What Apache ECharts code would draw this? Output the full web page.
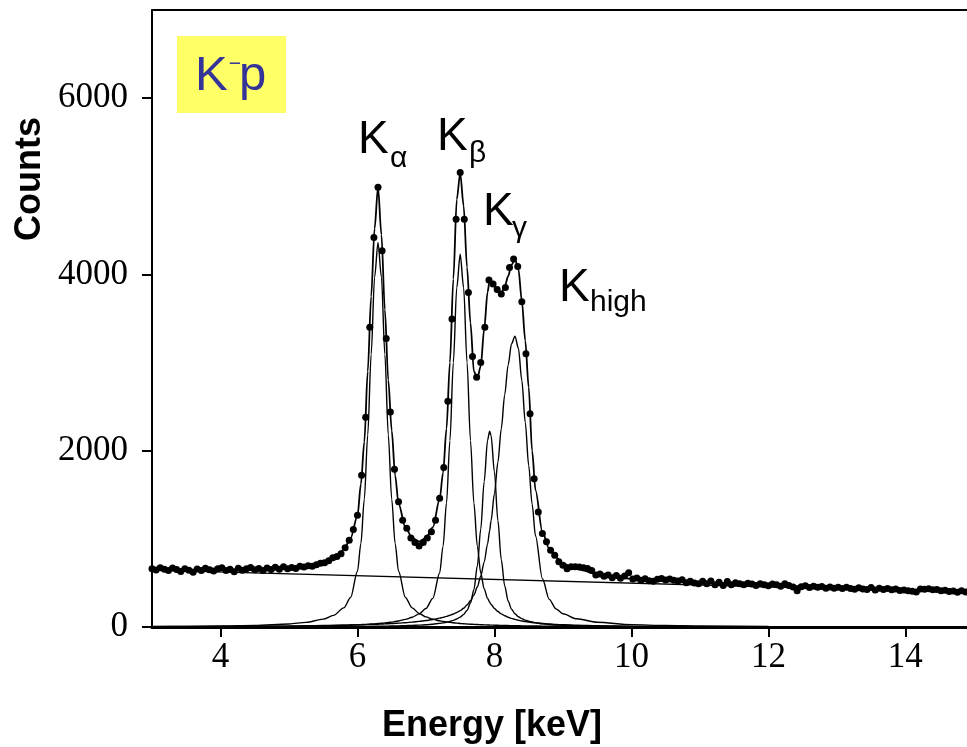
<!DOCTYPE html>
<html>
<head>
<meta charset="utf-8">
<script src="https://cdn.jsdelivr.net/npm/echarts@6/dist/echarts.min.js"></script>
<style>
html,body{margin:0;padding:0;background:#fff;}
#chart{width:967px;height:747px;}
</style>
</head>
<body>
<div id="chart"></div>
<script>
// ---- Data ----
const xTicks = [4, 6, 8, 10, 12, 14];
const yTicks = [0, 2000, 4000, 6000];

// x positions (keV) of the fitted curves
const energyGrid = [3.0, 3.5, 4.0, 4.5, 5.0, 5.25, 5.5, 5.65, 5.8, 5.9, 6.0, 6.05, 6.1, 6.15, 6.2, 6.25, 6.3, 6.35, 6.4, 6.45, 6.5, 6.55, 6.6, 6.7, 6.8, 6.9, 7.0, 7.1, 7.2, 7.25, 7.3, 7.35, 7.4, 7.45, 7.5, 7.55, 7.6, 7.65, 7.7, 7.75, 7.8, 7.85, 7.9, 7.93, 7.95, 8.0, 8.05, 8.1, 8.15, 8.2, 8.25, 8.3, 8.35, 8.4, 8.45, 8.5, 8.55, 8.6, 8.7, 8.8, 8.9, 9.0, 9.2, 9.5, 10, 10.5, 11, 12, 13, 14, 15];

// total fit curve
const fitTotal = [655, 650, 648, 653, 670, 690, 725, 780, 875, 1010, 1260, 1620, 2100, 2900, 3750, 4520, 4990, 4450, 3600, 2800, 2230, 1720, 1400, 1130, 1010, 970, 1010, 1130, 1450, 1750, 2250, 3000, 3950, 4850, 5150, 4780, 4080, 3450, 2900, 2820, 2960, 3380, 3800, 3930, 3930, 3870, 3800, 3790, 3860, 3980, 4110, 4170, 4060, 3700, 3250, 2720, 2000, 1550, 1080, 890, 790, 720, 660, 600, 548, 525, 505, 475, 448, 422, 400];

// K-alpha component
const kAlpha = [5.4, 7.5, 11.1, 18.1, 34.4, 52.3, 88.9, 132, 217, 335, 632, 947, 1451, 2180, 3093, 3969, 4360, 3969, 3093, 2180, 1451, 947, 632, 335, 217, 154, 115, 88.9, 70.6, 63.7, 57.6, 52.3, 47.7, 43.8, 40.2, 37.1, 34.4, 31.9, 29.7, 27.7, 25.9, 24.3, 22.8, 22.0, 21.5, 20.2, 19.1, 18.1, 17.1, 16.2, 15.4, 14.6, 14.0, 13.3, 12.7, 12.2, 11.6, 11.1, 10.2, 9.4, 8.7, 8.1, 7.0, 5.8, 4.3, 3.4, 2.7, 1.8, 1.3, 1.0, 0.8];

// K-beta component
const kBeta = [2.8, 3.6, 4.7, 6.3, 9.1, 11.3, 14.2, 16.6, 19.6, 22.1, 25.1, 26.9, 28.8, 31.0, 33.3, 36.0, 39.0, 42.5, 46.3, 50.8, 55.8, 61.8, 68.5, 86.3, 111, 149, 210, 325, 613, 918, 1407, 2115, 3000, 3851, 4230, 3851, 3000, 2115, 1407, 918, 613, 433, 325, 283, 257, 210, 176, 149, 128, 111, 97.7, 86.3, 76.6, 68.5, 61.8, 55.8, 50.8, 46.3, 39.0, 33.3, 28.8, 25.1, 19.6, 14.2, 9.1, 6.3, 4.7, 2.8, 1.9, 1.4, 1.0];

// K-gamma component
const kGamma = [0.9, 1.1, 1.5, 1.9, 2.6, 3.1, 3.8, 4.3, 5.0, 5.5, 6.0, 6.4, 6.7, 7.1, 7.5, 8.0, 8.5, 9.0, 9.6, 10.3, 11.0, 11.8, 12.7, 14.9, 17.6, 20.9, 25.5, 31.9, 40.9, 47.0, 54.4, 63.7, 75.6, 91.1, 112, 142, 189, 272, 424, 692, 1110, 1649, 2120, 2220, 2175, 1759, 1211, 763, 467, 295, 202, 150, 117, 94.7, 78.4, 65.9, 56.1, 48.3, 36.9, 29.1, 23.5, 19.7, 14.0, 9.1, 5.3, 3.4, 2.4, 1.4, 0.9, 0.6, 0.5];

// K-high component
const kHigh = [4.6, 5.6, 7.0, 9.0, 11.9, 13.9, 16.5, 18.4, 20.7, 22.5, 24.1, 25.2, 26.3, 27.5, 28.8, 30.2, 31.7, 33.3, 35.1, 37.0, 39.0, 41.2, 43.6, 49.0, 55.6, 63.5, 73.1, 85.2, 100.4, 109.7, 120.2, 132.5, 146.9, 164.3, 185.9, 213.2, 249.3, 297.7, 363.4, 453.5, 575, 736, 943, 1093, 1203, 1513, 1867, 2251, 2635, 2974, 3213, 3300, 3161, 2797, 2322, 1834, 1394, 1032, 550, 313.5, 205, 150, 93, 53.7, 27.2, 16.3, 10.9, 5.8, 3.6, 2.5, 1.8];

// linear background
const bgEnergy = [3, 15];
const bgCounts = [645, 392];

// measured spectrum points
const dataEnergy = [3.00, 3.06, 3.12, 3.18, 3.24, 3.30, 3.36, 3.42, 3.48, 3.54,
  3.60, 3.66, 3.72, 3.78, 3.84, 3.90, 3.96, 4.02, 4.08, 4.14,
  4.20, 4.26, 4.32, 4.38, 4.44, 4.50, 4.56, 4.62, 4.68, 4.74,
  4.80, 4.86, 4.92, 4.98, 5.04, 5.10, 5.16, 5.22, 5.28, 5.34,
  5.40, 5.46, 5.52, 5.58, 5.64, 5.70, 5.76, 5.82, 5.88, 5.94,
  6.00, 6.06, 6.12, 6.18, 6.24, 6.30, 6.36, 6.42, 6.48, 6.54,
  6.60, 6.66, 6.72, 6.78, 6.84, 6.90, 6.96, 7.02, 7.08, 7.14,
  7.20, 7.26, 7.32, 7.38, 7.44, 7.50, 7.56, 7.62, 7.68, 7.74,
  7.80, 7.86, 7.92, 7.98, 8.04, 8.10, 8.16, 8.22, 8.28, 8.34,
  8.40, 8.46, 8.52, 8.58, 8.64, 8.70, 8.76, 8.82, 8.88, 8.94,
  9.00, 9.06, 9.12, 9.18, 9.24, 9.30, 9.36, 9.42, 9.48, 9.54,
  9.60, 9.66, 9.72, 9.78, 9.84, 9.90, 9.96, 10.02, 10.08, 10.14,
  10.20, 10.26, 10.32, 10.38, 10.44, 10.50, 10.56, 10.62, 10.68, 10.74,
  10.80, 10.86, 10.92, 10.98, 11.04, 11.10, 11.16, 11.22, 11.28, 11.34,
  11.40, 11.46, 11.52, 11.58, 11.64, 11.70, 11.76, 11.82, 11.88, 11.94,
  12.00, 12.06, 12.12, 12.18, 12.24, 12.30, 12.36, 12.42, 12.48, 12.54,
  12.60, 12.66, 12.72, 12.78, 12.84, 12.90, 12.96, 13.02, 13.08, 13.14,
  13.20, 13.26, 13.32, 13.38, 13.44, 13.50, 13.56, 13.62, 13.68, 13.74,
  13.80, 13.86, 13.92, 13.98, 14.04, 14.10, 14.16, 14.22, 14.28, 14.34,
  14.40, 14.46, 14.52, 14.58, 14.64, 14.70, 14.76, 14.82, 14.88, 14.94];
const dataCounts = [660, 648, 671, 655, 640, 668, 652, 630, 662, 645,
  621, 658, 640, 667, 650, 635, 660, 672, 641, 654,
  628, 666, 643, 660, 676, 649, 664, 640, 670, 652,
  678, 655, 683, 662, 675, 664, 690, 681, 695, 690,
  705, 722, 730, 752, 785, 800, 830, 900, 985, 1106,
  1268, 1721, 2380, 3400, 4420, 4990, 4268, 3272, 2440, 1790,
  1420, 1210, 1120, 1010, 960, 920, 960, 1010, 1080, 1210,
  1460, 1810, 2562, 3495, 4627, 5155, 4627, 3796, 3068, 2834,
  3000, 3400, 3936, 3891, 3830, 3778, 3853, 4079, 4174, 4090,
  3690, 3100, 2420, 1683, 1306, 1061, 966, 872, 815, 739,
  700, 660, 683, 683, 680, 672, 664, 640, 589, 600,
  575, 590, 560, 585, 552, 578, 615, 545, 556, 530,
  548, 526, 518, 541, 550, 534, 545, 530, 522, 535,
  502, 520, 498, 492, 518, 492, 521, 480, 508, 470,
  515, 478, 501, 492, 478, 496, 488, 470, 492, 479,
  467, 489, 480, 462, 490, 470, 455, 412, 458, 468,
  447, 462, 450, 460, 441, 455, 440, 452, 436, 450,
  438, 428, 445, 432, 425, 448, 420, 440, 426, 438,
  422, 431, 415, 420, 410, 405, 398, 430, 428, 435,
  422, 426, 410, 418, 402, 408, 395, 412, 398, 404];

// ---- Build chart ----
const pairs = (xs, ys) => xs.map((x, i) => [x, ys[i]]);
const chart = echarts.init(document.getElementById('chart'), null, {renderer: 'canvas'});

const compLine = (name, ys, w) => ({
  name: name, type: 'line', data: pairs(energyGrid, ys), showSymbol: false,
  smooth: 0.3, smoothMonotone: 'x', clip: true,
  lineStyle: {color: '#000', width: w}, z: 3, silent: true
});

const tickFont = {fontFamily: '"Liberation Serif", "Times New Roman", serif', fontSize: 35, color: '#000'};
const sans = '"Liberation Sans", Arial, sans-serif';
const plain = v => String(v);

const option = {
  animation: false,
  backgroundColor: '#fff',
  grid: {left: 152, right: 0, top: 10, bottom: 120, containLabel: false},
  xAxis: [{
    type: 'value', min: 3, max: 14.9, position: 'bottom',
    axisLine: {show: true, onZero: false, lineStyle: {color: '#000', width: 3}},
    axisTick: {show: true, inside: false, length: 10, customValues: xTicks, lineStyle: {color: '#000', width: 2}},
    axisLabel: Object.assign({customValues: xTicks, margin: 13, formatter: plain}, tickFont),
    splitLine: {show: false}
  }, {
    type: 'value', min: 3, max: 14.9, position: 'top',
    axisLine: {show: true, onZero: false, lineStyle: {color: '#000', width: 2}},
    axisTick: {show: false}, axisLabel: {show: false}, splitLine: {show: false}
  }],
  yAxis: {
    type: 'value', min: 0, max: 7000,
    axisLine: {show: true, onZero: false, lineStyle: {color: '#000', width: 2}},
    axisTick: {show: true, inside: false, length: 10, customValues: yTicks, lineStyle: {color: '#000', width: 2}},
    axisLabel: Object.assign({customValues: yTicks, margin: 24, formatter: plain}, tickFont),
    splitLine: {show: false}
  },
  series: [
    {name: 'Background', type: 'line', data: pairs(bgEnergy, bgCounts), showSymbol: false,
     lineStyle: {color: '#000', width: 1.4}, z: 3, silent: true},
    compLine('Kα', kAlpha, 1.4),
    compLine('Kβ', kBeta, 1.4),
    compLine('Kγ', kGamma, 1.4),
    compLine('Khigh', kHigh, 1.4),
    compLine('Fit', fitTotal, 1.8),
    {name: 'Data', type: 'scatter', data: pairs(dataEnergy, dataCounts),
     symbol: 'circle', symbolSize: 7, itemStyle: {color: '#000', opacity: 1}, z: 5, clip: true, silent: true}
  ],
  graphic: {elements: [
    {type: 'rect', shape: {x: 177, y: 36, width: 109, height: 77}, style: {fill: '#FFFF66'}, z: 10},
    {type: 'text', x: 195, y: 76, z: 11, style: {text: 'K', font: '49px ' + sans, fill: '#333399', align: 'left', verticalAlign: 'middle', textAlign: 'left', textVerticalAlign: 'middle'}},
    {type: 'text', x: 235, y: 64, z: 11, style: {text: '−', font: '21px ' + sans, fill: '#333399', align: 'center', verticalAlign: 'middle', textAlign: 'center', textVerticalAlign: 'middle'}},
    {type: 'text', x: 239, y: 76, z: 11, style: {text: 'p', font: '49px ' + sans, fill: '#333399', align: 'left', verticalAlign: 'middle', textAlign: 'left', textVerticalAlign: 'middle'}},

    {type: 'text', x: 358, y: 140, z: 11, style: {text: 'K', font: '46px ' + sans, fill: '#000', align: 'left', verticalAlign: 'middle', textAlign: 'left', textVerticalAlign: 'middle'}},
    {type: 'text', x: 390, y: 159, z: 11, style: {text: 'α', font: '30px ' + sans, fill: '#000', align: 'left', verticalAlign: 'middle', textAlign: 'left', textVerticalAlign: 'middle'}},
    {type: 'text', x: 437, y: 137, z: 11, style: {text: 'K', font: '46px ' + sans, fill: '#000', align: 'left', verticalAlign: 'middle', textAlign: 'left', textVerticalAlign: 'middle'}},
    {type: 'text', x: 469, y: 154, z: 11, style: {text: 'β', font: '30px ' + sans, fill: '#000', align: 'left', verticalAlign: 'middle', textAlign: 'left', textVerticalAlign: 'middle'}},
    {type: 'text', x: 483, y: 212, z: 11, style: {text: 'K', font: '46px ' + sans, fill: '#000', align: 'left', verticalAlign: 'middle', textAlign: 'left', textVerticalAlign: 'middle'}},
    {type: 'text', x: 512, y: 229, z: 11, style: {text: 'γ', font: '30px ' + sans, fill: '#000', align: 'left', verticalAlign: 'middle', textAlign: 'left', textVerticalAlign: 'middle'}},
    {type: 'text', x: 559, y: 288, z: 11, style: {text: 'K', font: '46px ' + sans, fill: '#000', align: 'left', verticalAlign: 'middle', textAlign: 'left', textVerticalAlign: 'middle'}},
    {type: 'text', x: 590, y: 303, z: 11, style: {text: 'high', font: '30px ' + sans, fill: '#000', align: 'left', verticalAlign: 'middle', textAlign: 'left', textVerticalAlign: 'middle'}},

    {type: 'text', x: 30, y: 179, rotation: Math.PI / 2, z: 11, style: {text: 'Counts', font: 'bold 36px ' + sans, fill: '#000', align: 'center', verticalAlign: 'middle', textAlign: 'center', textVerticalAlign: 'middle'}},
    {type: 'text', x: 492, y: 726, z: 11, style: {text: 'Energy [keV]', font: 'bold 36px ' + sans, fill: '#000', align: 'center', verticalAlign: 'middle', textAlign: 'center', textVerticalAlign: 'middle'}}
  ]}
};
chart.setOption(option);
</script>
</body>
</html>
